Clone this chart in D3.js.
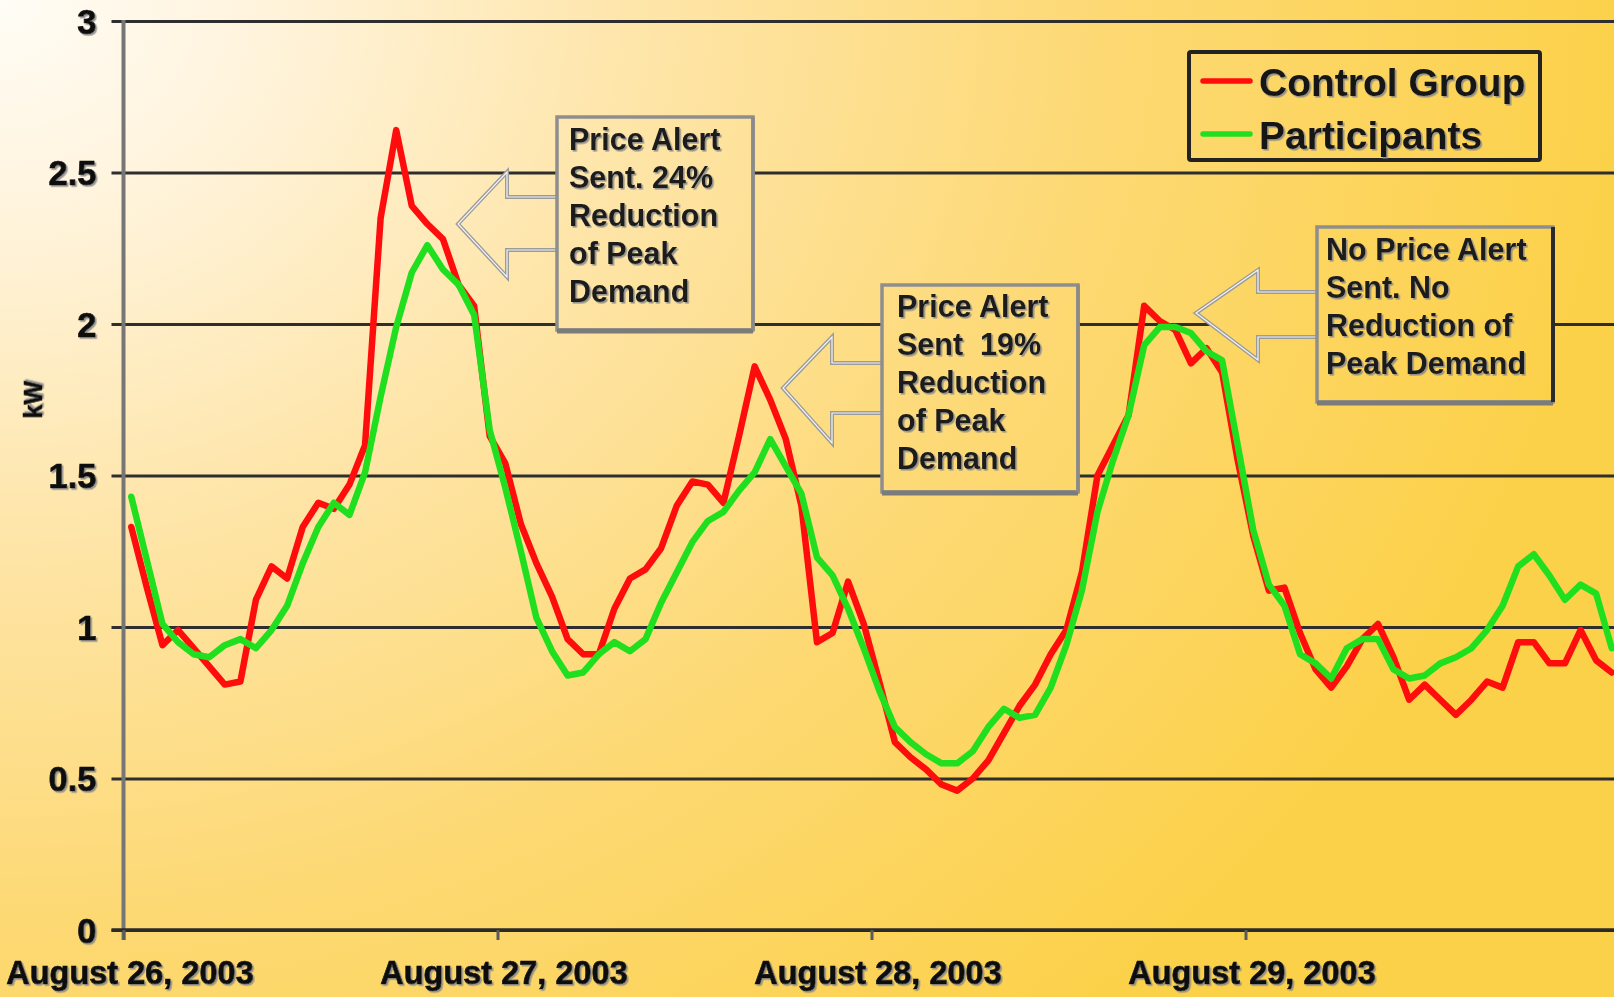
<!DOCTYPE html>
<html>
<head>
<meta charset="utf-8">
<script src="https://cdn.jsdelivr.net/npm/d3@7"></script>
<style>
  html, body { margin: 0; padding: 0; overflow: hidden; background: #fde6a8; }
  svg { display: block; }
  text { font-family: "Liberation Sans", Arial, Helvetica, sans-serif; }
</style>
</head>
<body>
<svg id="chart" width="1614" height="997"></svg>
<script>
// Hourly average demand (kW), 96 hours starting August 26, 2003
const dayLabels = ["August 26, 2003", "August 27, 2003", "August 28, 2003", "August 29, 2003"];

const controlGroup = [
  1.33, 1.13, 0.94, 0.99, 0.93, 0.87, 0.81, 0.82, 1.09, 1.20, 1.16, 1.33,
  1.41, 1.39, 1.47, 1.60, 2.35, 2.64, 2.39, 2.33, 2.28, 2.13, 2.06, 1.63,
  1.54, 1.34, 1.21, 1.10, 0.96, 0.91, 0.91, 1.06, 1.16, 1.19, 1.26, 1.40,
  1.48, 1.47, 1.41, 1.63, 1.86, 1.75, 1.62, 1.40, 0.95, 0.98, 1.15, 1.01,
  0.82, 0.62, 0.57, 0.53, 0.48, 0.46, 0.50, 0.56, 0.65, 0.74, 0.81, 0.91,
  0.99, 1.18, 1.50, 1.60, 1.70, 2.06, 2.01, 1.98, 1.87, 1.92, 1.84, 1.55,
  1.30, 1.12, 1.13, 0.98, 0.86, 0.80, 0.87, 0.96, 1.01, 0.90, 0.76, 0.81,
  0.76, 0.71, 0.76, 0.82, 0.80, 0.95, 0.95, 0.88, 0.88, 0.99, 0.89, 0.85
];

const participants = [
  1.43, 1.22, 1.01, 0.95, 0.91, 0.90, 0.94, 0.96, 0.93, 0.99, 1.07, 1.21,
  1.33, 1.41, 1.37, 1.51, 1.76, 1.99, 2.17, 2.26, 2.18, 2.13, 2.03, 1.65,
  1.46, 1.25, 1.03, 0.92, 0.84, 0.85, 0.91, 0.95, 0.92, 0.96, 1.08, 1.18,
  1.28, 1.35, 1.38, 1.45, 1.51, 1.62, 1.53, 1.44, 1.23, 1.17, 1.06, 0.93,
  0.79, 0.67, 0.62, 0.58, 0.55, 0.55, 0.59, 0.67, 0.73, 0.70, 0.71, 0.80,
  0.94, 1.12, 1.38, 1.55, 1.70, 1.93, 1.99, 1.99, 1.97, 1.91, 1.88, 1.60,
  1.32, 1.14, 1.07, 0.91, 0.88, 0.83, 0.93, 0.96, 0.96, 0.86, 0.83, 0.84,
  0.88, 0.90, 0.93, 0.99, 1.07, 1.20, 1.24, 1.17, 1.09, 1.14, 1.11, 0.93
];

const yTicks = [0, 0.5, 1, 1.5, 2, 2.5, 3];
const yTickLabels = ["0", "0.5", "1", "1.5", "2", "2.5", "3"];
const yAxisTitle = "kW";

const seriesNames = ["Control Group", "Participants"];

const noteEvent1 = ["Price Alert", "Sent. 24%", "Reduction", "of Peak", "Demand"];
const noteEvent2 = ["Price Alert", "Sent  19%", "Reduction", "of Peak", "Demand"];
const noteEvent3 = ["No Price Alert", "Sent. No", "Reduction of", "Peak Demand"];

// ---------- layout ----------
const W = 1614, H = 997;
const nHours = controlGroup.length;
const plotLeft = 123.5, plotRight = 1619.5, plotTop = 21, plotBottom = 930;

const svg = d3.select("#chart");
const defs = svg.append("defs");

// warm cream-to-gold backdrop
const bg = defs.append("radialGradient")
  .attr("id", "bgGrad")
  .attr("gradientUnits", "userSpaceOnUse")
  .attr("cx", 0).attr("cy", 0).attr("r", 1350)
  .attr("gradientTransform", "scale(1.2,1)");
[[0, "#fffdf6"], [0.15, "#fff4de"], [0.4, "#fee5a8"], [0.68, "#fdd974"], [1, "#fcd14a"]]
  .forEach(([o, c]) => bg.append("stop").attr("offset", o).attr("stop-color", c));

// soft grey ghost behind text
const f = defs.append("filter").attr("id", "emboss")
  .attr("x", "-5%").attr("y", "-20%").attr("width", "115%").attr("height", "150%");
f.append("feDropShadow").attr("dx", 1.6).attr("dy", 1.6).attr("stdDeviation", 0.5)
  .attr("flood-color", "#8a8a8a").attr("flood-opacity", 0.9);

svg.append("rect").attr("width", W).attr("height", H).attr("fill", "url(#bgGrad)");

// ---------- scales ----------
const x = d3.scaleLinear().domain([0, nHours]).range([plotLeft, plotRight]);
const xDay = d3.scaleLinear().domain([0, dayLabels.length]).range([plotLeft, plotRight]);
const y = d3.scaleLinear().domain([0, 3]).range([plotBottom, plotTop]);

// heavy label styling shared by axis texts
function heavy(sel, size) {
  sel.attr("font-size", size).attr("font-weight", "bold")
    .attr("fill", "#111").attr("stroke", "#111").attr("stroke-width", 0.7)
    .attr("filter", "url(#emboss)")
    .attr("font-family", "'Liberation Sans', Arial, sans-serif");
}

// ---------- gridlines / y axis ----------
const yAxis = d3.axisLeft(y)
  .tickValues(yTicks)
  .tickFormat((d, i) => yTickLabels[i])
  .tickSize(0);

const gy = svg.append("g").attr("transform", `translate(${plotLeft},0)`).call(yAxis);
gy.select(".domain").remove();
gy.selectAll(".tick line")
  .attr("x1", -12).attr("x2", W - plotLeft + 10)
  .attr("stroke", "#2e2e2e").attr("stroke-width", 3);
gy.selectAll(".tick text").attr("x", -27).attr("dy", "0.36em").call(heavy, 34.5);

// vertical axis line
svg.append("line")
  .attr("x1", plotLeft).attr("x2", plotLeft)
  .attr("y1", plotTop - 1).attr("y2", plotBottom + 10)
  .attr("stroke", "#767676").attr("stroke-width", 4);

// ---------- x axis ----------
const xAxis = d3.axisBottom(xDay)
  .tickValues(d3.range(dayLabels.length))
  .tickFormat((d, i) => dayLabels[i])
  .tickSize(10);

const gx = svg.append("g").attr("transform", `translate(0,${plotBottom})`).call(xAxis);
gx.select(".domain")
  .attr("d", `M${plotLeft - 12},0H${W + 10}`)
  .attr("stroke", "#2a2a2a").attr("stroke-width", 3.5);
gx.selectAll(".tick line").attr("stroke", "#5a5a5a").attr("stroke-width", 3);
gx.selectAll(".tick text").attr("x", 6).attr("y", 54).attr("dy", 0).call(heavy, 32.5);

// y axis title
svg.append("text")
  .attr("transform", `translate(42,${y(1.75)}) rotate(-90)`)
  .attr("text-anchor", "middle")
  .call(heavy, 25)
  .text(yAxisTitle);

// ---------- series ----------
const line = d3.line()
  .x((d, i) => x(i + 0.5))
  .y(d => y(d));

const series = [
  { name: seriesNames[0], values: controlGroup, color: "#ff0d0d" },
  { name: seriesNames[1], values: participants, color: "#1fdf1f" }
];

svg.append("g").selectAll("path")
  .data(series)
  .join("path")
  .attr("d", d => line(d.values))
  .attr("fill", "none")
  .attr("stroke", d => d.color)
  .attr("stroke-width", 6.5)
  .attr("stroke-linejoin", "round")
  .attr("stroke-linecap", "round");

// ---------- callouts ----------
function callout(lines, box, arrow, textX, firstBaseline, darkRight) {
  const g = svg.append("g");
  const path = d3.path();
  path.moveTo(box.x0, arrow.shaftTop);
  path.lineTo(arrow.back, arrow.shaftTop);
  path.lineTo(arrow.back, arrow.headTop);
  path.lineTo(arrow.tipX, arrow.tipY);
  path.lineTo(arrow.back, arrow.headBottom);
  path.lineTo(arrow.back, arrow.shaftBottom);
  path.lineTo(box.x0, arrow.shaftBottom);
  g.append("path").attr("d", path.toString())
    .attr("fill", "url(#bgGrad)")
    .attr("stroke", "#9b9b9b").attr("stroke-width", 4).attr("stroke-linejoin", "miter");
  g.append("path").attr("d", path.toString())
    .attr("fill", "none")
    .attr("stroke", "#f4f4f4").attr("stroke-width", 1.2);

  g.append("rect")
    .attr("x", box.x0).attr("y", box.y0)
    .attr("width", box.x1 - box.x0).attr("height", box.y1 - box.y0)
    .attr("fill", "url(#bgGrad)")
    .attr("stroke", "#8e8e8e").attr("stroke-width", 3.5);
  g.append("line")
    .attr("x1", box.x0).attr("x2", box.x1)
    .attr("y1", box.y1 + 1).attr("y2", box.y1 + 1)
    .attr("stroke", "#7b7b7b").attr("stroke-width", 5);
  g.append("line")
    .attr("x1", box.x1).attr("x2", box.x1)
    .attr("y1", box.y0).attr("y2", box.y1)
    .attr("stroke", darkRight ? "#2a2a2a" : "#8a8a8a").attr("stroke-width", darkRight ? 4 : 3.5);

  g.append("text")
    .attr("font-size", 30.5).attr("font-weight", "bold").attr("fill", "#1a1a1a")
    .attr("filter", "url(#emboss)")
    .attr("xml:space", "preserve")
    .selectAll("tspan")
    .data(lines)
    .join("tspan")
    .attr("x", textX)
    .attr("y", (d, i) => firstBaseline + i * 38)
    .text(d => d);
}

callout(noteEvent1,
  { x0: 557, y0: 117, x1: 753, y1: 330 },
  { tipX: 458, tipY: 224, back: 507, headTop: 172, headBottom: 277, shaftTop: 197, shaftBottom: 250 },
  569, 150, false);

callout(noteEvent2,
  { x0: 882, y0: 285, x1: 1078, y1: 492 },
  { tipX: 783, tipY: 388, back: 832, headTop: 337, headBottom: 443, shaftTop: 363, shaftBottom: 413 },
  897, 317, false);

callout(noteEvent3,
  { x0: 1317, y0: 227, x1: 1553, y1: 402 },
  { tipX: 1196, tipY: 313, back: 1258, headTop: 270, headBottom: 360, shaftTop: 292, shaftBottom: 337 },
  1326, 260, true);

// ---------- legend ----------
const legend = svg.append("g");
legend.append("rect")
  .attr("x", 1189).attr("y", 52).attr("width", 351).attr("height", 108)
  .attr("rx", 2)
  .attr("fill", "url(#bgGrad)")
  .attr("stroke", "#222").attr("stroke-width", 4);

const items = legend.selectAll("g.item")
  .data(series)
  .join("g")
  .attr("class", "item")
  .attr("transform", (d, i) => `translate(0,${i * 53})`);

items.append("line")
  .attr("x1", 1203).attr("x2", 1250)
  .attr("y1", 81).attr("y2", 81)
  .attr("stroke", d => d.color).attr("stroke-width", 5.5)
  .attr("stroke-linecap", "round");

items.append("text")
  .attr("x", 1259).attr("y", 96)
  .attr("font-size", 39).attr("font-weight", "bold").attr("fill", "#151515")
  .attr("filter", "url(#emboss)")
  .text(d => d.name);
</script>
</body>
</html>
